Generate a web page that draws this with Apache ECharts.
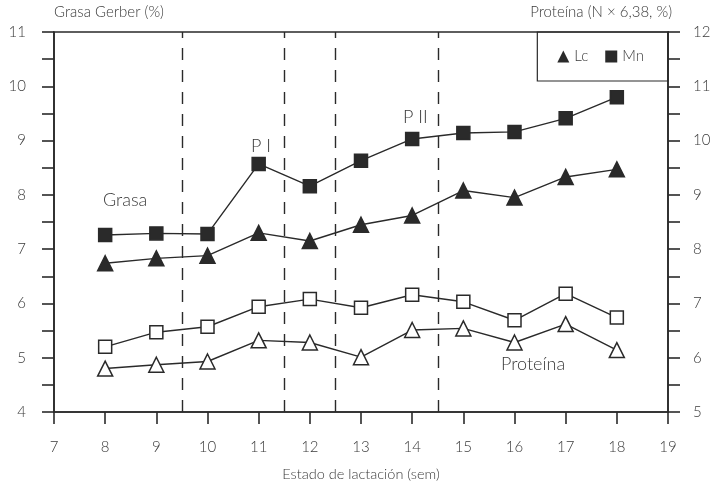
<!DOCTYPE html>
<html>
<head>
<meta charset="utf-8">
<script src="https://cdn.jsdelivr.net/npm/echarts@6/dist/echarts.min.js"></script>
<style>html,body{margin:0;padding:0;background:#fff}#c{width:717px;height:487px}</style>
</head>
<body>
<div id="c"></div>
<script>
var weeks = [8, 9, 10, 11, 12, 13, 14, 15, 16, 17, 18];
var grasaLc = [6.74, 6.83, 6.88, 7.30, 7.15, 7.45, 7.62, 8.08, 7.95, 8.33, 8.47];
var grasaMn = [7.26, 7.29, 7.28, 8.57, 8.16, 8.63, 9.03, 9.14, 9.16, 9.41, 9.80];
var proteinaLc = [5.80, 5.87, 5.93, 6.32, 6.28, 6.01, 6.51, 6.54, 6.28, 6.62, 6.14];
var proteinaMn = [6.20, 6.47, 6.57, 6.94, 7.08, 6.92, 7.16, 7.03, 6.69, 7.18, 6.74];
var periodBounds = [9.5, 11.5, 12.5, 14.5];
var xTicks = [7, 19];
var leftTicks = [4, 11];
var rightTicks = [5, 12];

var FONT = 'Lato';
var FW = 300;
var INK = '#2a2a2a';
var TXT = '#3a3a3a';
function pairs(ys){ return weeks.map(function(w,i){ return [w, ys[i]]; }); }

var chart = echarts.init(document.getElementById('c'));
var axisLine = {show: true, lineStyle: {color: INK, width: 1.6}};
var tick = {show: true, inside: false, length: 12, lineStyle: {color: INK, width: 1.6}};
var minor = {show: true, splitNumber: 2, length: 12, lineStyle: {color: INK, width: 1.6}};

var lineStyle = {color: INK, width: 1.4};
function series(name, data, sym, filled, yIdx, extra) {
  var s = {
    name: name, type: 'line', data: pairs(data), yAxisIndex: yIdx,
    symbol: sym, symbolSize: sym === 'triangle' ? 15 : 13,
    showSymbol: true, animation: false,
    lineStyle: lineStyle,
    itemStyle: {color: filled ? INK : '#fff', borderColor: INK, borderWidth: 1.5, opacity: 1},
    z: 5
  };
  if (extra) for (var k in extra) s[k] = extra[k];
  return s;
}

var option = {
  animation: false,
  backgroundColor: '#fff',
  grid: {left: 54, right: 49, top: 32, bottom: 71, show: true, borderColor: INK, borderWidth: 1.6, backgroundColor: 'transparent'},
  legend: {
    right: 49, top: 32,
    orient: 'horizontal',
    borderColor: INK, borderWidth: 1.2,
    padding: [17, 24, 17, 20],
    itemGap: 17, itemWidth: 12, itemHeight: 12,
    textStyle: {color: TXT, fontFamily: FONT, fontWeight: FW, fontSize: 15},
    data: [
      {name: 'Lc', icon: 'triangle', itemStyle: {color: INK, borderWidth: 0}},
      {name: 'Mn', icon: 'rect', itemStyle: {color: INK, borderWidth: 0}}
    ],
    selectedMode: false
  },
  xAxis: {
    type: 'value', min: xTicks[0], max: xTicks[1], interval: 1,
    axisLine: axisLine, axisTick: tick, splitLine: {show: false},
    axisLabel: {color: TXT, fontFamily: FONT, fontWeight: FW, fontSize: 15, margin: 28},
    name: 'Estado de lactación (sem)', nameLocation: 'middle', nameGap: 55,
    nameTextStyle: {color: TXT, fontFamily: FONT, fontWeight: FW, fontSize: 14.5}
  },
  yAxis: [
    {
      type: 'value', position: 'left', min: leftTicks[0], max: leftTicks[1], interval: 1,
      axisLine: axisLine, axisTick: tick, minorTick: minor, splitLine: {show: false},
      axisLabel: {color: TXT, fontFamily: FONT, fontWeight: FW, fontSize: 15, margin: 28},
      name: 'Grasa Gerber (%)', nameLocation: 'end', nameGap: 12,
      nameTextStyle: {color: TXT, fontFamily: FONT, fontWeight: FW, fontSize: 15, align: 'left'}
    },
    {
      type: 'value', position: 'right', min: rightTicks[0], max: rightTicks[1], interval: 1,
      axisLine: axisLine, axisTick: tick, minorTick: minor, splitLine: {show: false},
      axisLabel: {color: TXT, fontFamily: FONT, fontWeight: FW, fontSize: 15, margin: 25},
      name: 'Proteína (N × 6,38, %)', nameLocation: 'end', nameGap: 12,
      nameTextStyle: {color: TXT, fontFamily: FONT, fontWeight: FW, fontSize: 15, align: 'right', padding: [0, -4, 0, 0]}
    }
  ],
  series: [
    series('Lc', grasaLc, 'triangle', true, 0, {
      markLine: {
        silent: true, symbol: 'none', animation: false,
        label: {show: false},
        lineStyle: {color: INK, width: 1.4, type: [12, 10]},
        data: periodBounds.map(function(b){ return [{coord: [b, leftTicks[0]]}, {coord: [b, leftTicks[1]]}]; })
      }
    }),
    series('Mn', grasaMn, 'rect', true, 0),
    series('Proteína Lc', proteinaLc, 'triangle', false, 1),
    series('Proteína Mn', proteinaMn, 'rect', false, 1)
  ],
  graphic: [
    {type: 'text', left: 103, top: 191, style: {text: 'Grasa', font: FW + ' 18px ' + FONT, fill: TXT}},
    {type: 'text', left: 251, top: 137, style: {text: 'P I', font: FW + ' 18px ' + FONT, fill: TXT}},
    {type: 'text', left: 403, top: 108, style: {text: 'P II', font: FW + ' 18px ' + FONT, fill: TXT}},
    {type: 'text', left: 501, top: 355, style: {text: 'Proteína', font: FW + ' 18px ' + FONT, fill: TXT}}
  ]
};
chart.setOption(option);
</script>
</body>
</html>
